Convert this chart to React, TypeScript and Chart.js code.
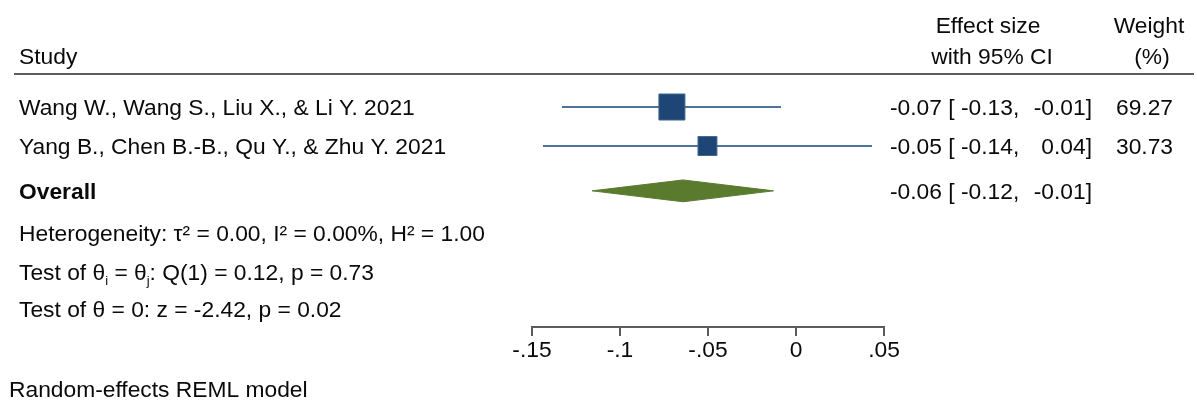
import React, { useEffect, useRef } from "react";
import { Chart, registerables } from "chart.js";

Chart.register(...registerables);

// ---- data ----
const studies = [
  "Wang W., Wang S., Liu X., & Li Y. 2021",
  "Yang B., Chen B.-B., Qu Y., & Zhu Y. 2021",
];
const estimates = [-0.0705, -0.0503];
const lowerCI = [-0.133, -0.1438];
const upperCI = [-0.0085, 0.0432];
const weights = [69.27, 30.73];
const estimateLabels = ["-0.07", "-0.05"];
const lowerLabels = ["-0.13", "-0.14"];
const upperLabels = ["-0.01", "0.04"];
const weightLabels = ["69.27", "30.73"];

const overallName = "Overall";
const overallEstimate = -0.0642;
const overallLower = -0.1158;
const overallUpper = -0.0128;
const overallLabels = ["-0.06", "-0.12", "-0.01"];

const rowPositions = [1, 2, 3.15];
const xTickValues = [-0.15, -0.1, -0.05, 0, 0.05];
const xTickLabels = ["-.15", "-.1", "-.05", "0", ".05"];

const headerStudy = "Study";
const headerEffect = ["Effect size", "with 95% CI"];
const headerWeight = ["Weight", "(%)"];
const heterogeneityText = "Heterogeneity: \u03C4\u00B2 = 0.00, I\u00B2 = 0.00%, H\u00B2 = 1.00";
const testEqualParts = ["Test of \u03B8", "i", " = \u03B8", "j", ": Q(1) = 0.12, p = 0.73"];
const testZeroText = "Test of \u03B8 = 0: z = -2.42, p = 0.02";
const footerText = "Random-effects REML model";

// ---- style ----
const FAMILY = '"Liberation Sans", Arial, Helvetica, sans-serif';
const FS = 22.8;
const TEXT = "#0a0a0a";
const SQUARE = "#1d4676";
const SQUARE_EDGE = "#42688f";
const CI_LINE = "#4f7499";
const DIAMOND = "#5a7a2e";
const AXIS = "#5c5c5c";

const f = (size: number, bold = false) => `${bold ? "bold " : ""}${size}px ${FAMILY}`;

const textPlugin = {
  id: "forestText",
  afterDraw(chart: any) {
    const ctx = chart.ctx as CanvasRenderingContext2D;
    const ys = chart.scales.y;
    ctx.save();
    ctx.fillStyle = TEXT;
    ctx.textBaseline = "alphabetic";

    // header
    ctx.font = f(FS);
    ctx.textAlign = "left";
    ctx.fillText(headerStudy, 19, 64);
    ctx.textAlign = "center";
    ctx.fillText(headerEffect[0], 988, 33);
    ctx.fillText(headerEffect[1], 992, 64);
    ctx.fillText(headerWeight[0], 1149, 33);
    ctx.fillText(headerWeight[1], 1152, 64);

    ctx.strokeStyle = AXIS;
    ctx.lineWidth = 2;
    ctx.beginPath();
    ctx.moveTo(14, 74);
    ctx.lineTo(1194, 74);
    ctx.stroke();

    // study rows
    studies.forEach((name, i) => {
      const by = ys.getPixelForValue(rowPositions[i]) + 8;
      ctx.font = f(FS);
      ctx.textAlign = "left";
      ctx.fillText(name, 19, by);
      ctx.fillText(`${estimateLabels[i]} [ ${lowerLabels[i]},`, 890, by);
      ctx.textAlign = "right";
      ctx.fillText(`${upperLabels[i]}]`, 1092, by);
      ctx.fillText(weightLabels[i], 1173, by);
    });

    // overall row
    const oy = ys.getPixelForValue(rowPositions[2]) + 8;
    ctx.font = f(FS, true);
    ctx.textAlign = "left";
    ctx.fillText(overallName, 19, oy);
    ctx.font = f(FS);
    ctx.fillText(`${overallLabels[0]} [ ${overallLabels[1]},`, 890, oy);
    ctx.textAlign = "right";
    ctx.fillText(`${overallLabels[2]}]`, 1092, oy);

    // statistics
    ctx.textAlign = "left";
    ctx.font = f(FS);
    ctx.fillText(heterogeneityText, 19, 241);

    let x = 19;
    testEqualParts.forEach((part, k) => {
      const sub = k === 1 || k === 3;
      ctx.font = sub ? f(13) : f(FS);
      ctx.fillText(part, x, sub ? 285 : 280);
      x += ctx.measureText(part).width;
    });
    ctx.font = f(FS);
    ctx.fillText(testZeroText, 19, 317);

    ctx.fillText(footerText, 9, 397);
    ctx.restore();
  },
};

export default function App() {
  const ref = useRef<HTMLCanvasElement | null>(null);

  useEffect(() => {
    if (!ref.current) return;
    const rowH = 0.28;
    const datasets: any[] = [
      {
        type: "scatter",
        label: "Studies",
        data: estimates.map((e, i) => ({ x: e, y: rowPositions[i] })),
        pointStyle: "rect",
        pointRadius: weights.map((w) => (w > 50 ? 18.4 : 13.4)),
        backgroundColor: SQUARE,
        borderColor: SQUARE_EDGE,
        borderWidth: 1,
        order: 0,
      },
      ...studies.map((s, i) => ({
        type: "scatter",
        label: s,
        data: [
          { x: lowerCI[i], y: rowPositions[i] },
          { x: upperCI[i], y: rowPositions[i] },
        ],
        showLine: true,
        borderColor: CI_LINE,
        borderWidth: 2,
        pointRadius: 0,
        order: 1,
      })),
      {
        type: "scatter",
        label: overallName,
        data: [
          { x: overallLower, y: rowPositions[2] },
          { x: overallEstimate, y: rowPositions[2] - rowH },
          { x: overallUpper, y: rowPositions[2] },
          { x: overallEstimate, y: rowPositions[2] + rowH },
          { x: overallLower, y: rowPositions[2] },
        ],
        showLine: true,
        fill: "shape",
        backgroundColor: DIAMOND,
        borderColor: DIAMOND,
        borderWidth: 1,
        pointRadius: 0,
        tension: 0,
        order: 1,
      },
    ];

    const chart = new Chart(ref.current, {
      type: "scatter",
      data: { datasets },
      options: {
        animation: false,
        responsive: false,
        maintainAspectRatio: false,
        events: [],
        layout: { autoPadding: false, padding: { left: 532, right: 313, top: 0, bottom: 0 } },
        plugins: { legend: { display: false }, tooltip: { enabled: false } },
        scales: {
          x: {
            type: "linear",
            min: -0.15,
            max: 0.05,
            afterBuildTicks: (s: any) => {
              s.ticks = xTickValues.map((v) => ({ value: v }));
            },
            afterFit: (s: any) => {
              s.height = 76;
            },
            ticks: {
              callback: (_v: any, i: number) => xTickLabels[i],
              color: TEXT,
              font: { family: FAMILY, size: FS },
              padding: 1,
              maxRotation: 0,
              autoSkip: false,
            },
            grid: {
              drawOnChartArea: false,
              drawTicks: true,
              tickLength: 9,
              color: AXIS,
              lineWidth: 2,
            },
            border: { display: true, color: AXIS, width: 2 },
          },
          y: {
            type: "linear",
            reverse: true,
            min: -1.744,
            max: 6.641,
            display: false,
          },
        },
      },
      plugins: [textPlugin],
    });
    return () => chart.destroy();
  }, []);

  return (
    <div style={{ position: "absolute", left: 0, top: 0, width: 1197, height: 403, background: "#fff" }}>
      <canvas ref={ref} width={1197} height={403} style={{ display: "block" }} />
    </div>
  );
}
